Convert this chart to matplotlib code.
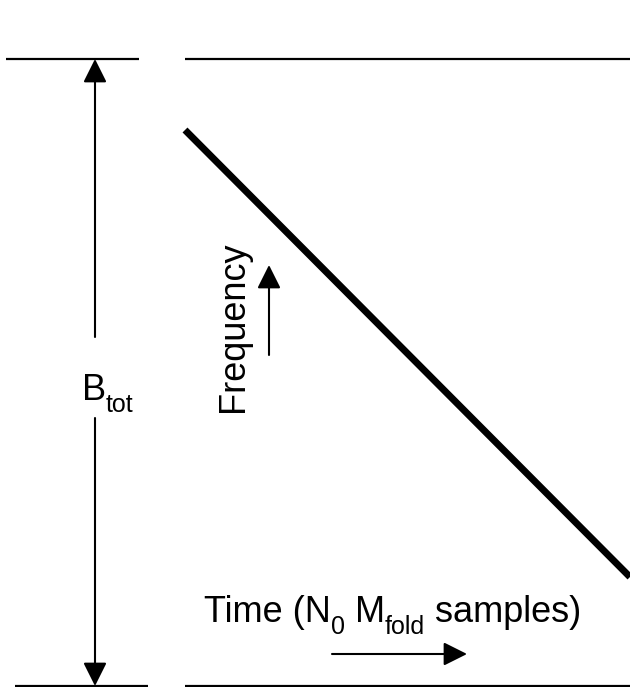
import matplotlib
matplotlib.use("Agg")
import matplotlib.pyplot as plt
from matplotlib.transforms import offset_copy

plt.rcParams['font.family'] = ['Liberation Sans', 'DejaVu Sans']

# diagram geometry, in picture pixels (y grows downwards)
W, H = 630, 687
top_y = 59
bottom_y = 686
left_top_x = [6, 139]
left_bottom_x = [15, 148]
right_x = [185, 630]

sweep_x = [185, 630]
sweep_y = [130, 577]

btot_x = 95
btot_gap = [337, 418]

freq_arrow_x = 269
freq_arrow_y = [355, 265]
time_arrow_x = [332, 467]
time_arrow_y = 654

# label pieces: (text, is_subscript)
btot_parts = [("B", False), ("tot", True)]
time_parts = [("Time (N", False), ("0", True), (" M", False), ("fold", True), (" samples)", False)]

MAIN_SIZE = 26
SUB_SIZE = 18
SUB_DROP = 12  # px below the main baseline

fig = plt.figure(figsize=(W / 100, H / 100), dpi=100)
ax = fig.add_axes([0, 0, 1, 1])
ax.set_xlim(0, W)
ax.set_ylim(H, 0)
ax.axis('off')
renderer = fig.canvas.get_renderer()


def chained_text(parts, x, y):
    # lay the pieces out one after the other on a shared baseline
    for s, sub in parts:
        tr = ax.transData
        if sub:
            tr = offset_copy(ax.transData, fig=fig, y=-SUB_DROP * 72 / 100, units='points')
        t = ax.text(x, y, s, fontsize=SUB_SIZE if sub else MAIN_SIZE,
                    ha='left', va='baseline', transform=tr)
        bb = t.get_window_extent(renderer)
        x = ax.transData.inverted().transform((bb.x1, bb.y0))[0]


# limit lines
for xs, yy in [(left_top_x, top_y), (right_x, top_y), (left_bottom_x, bottom_y), (right_x, bottom_y)]:
    ax.plot(xs, [yy, yy], color='black', lw=1.6, solid_capstyle='butt')

# chirp sweep
ax.plot(sweep_x, sweep_y, color='black', lw=5, solid_capstyle='butt')

arrow = dict(arrowstyle='-|>,head_length=0.6,head_width=0.3', color='black',
             lw=1.5, mutation_scale=24, shrinkA=0, shrinkB=0)

# total bandwidth arrow
ax.annotate('', xy=(btot_x, top_y), xytext=(btot_x, btot_gap[0]), arrowprops=arrow)
ax.annotate('', xy=(btot_x, bottom_y), xytext=(btot_x, btot_gap[1]), arrowprops=arrow)
chained_text(btot_parts, 82, 400)

# frequency label
ax.text(243, 327, 'Frequency', fontsize=MAIN_SIZE, rotation=90, rotation_mode='anchor',
        ha='center', va='baseline')
ax.annotate('', xy=(freq_arrow_x, freq_arrow_y[1]), xytext=(freq_arrow_x, freq_arrow_y[0]),
            arrowprops=arrow)

# time label
chained_text(time_parts, 204, 622)
ax.annotate('', xy=(time_arrow_x[1], time_arrow_y), xytext=(time_arrow_x[0], time_arrow_y),
            arrowprops=arrow)

fig.savefig('out.png', dpi=100)
